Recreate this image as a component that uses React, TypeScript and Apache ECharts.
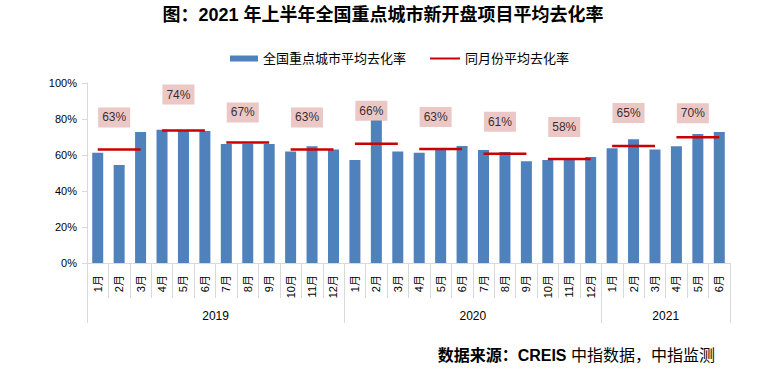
import React, { useEffect, useRef } from "react";
import * as echarts from "echarts";

const months: string[] = [
  "1月", "2月", "3月", "4月", "5月", "6月", "7月", "8月", "9月", "10月", "11月", "12月",
  "1月", "2月", "3月", "4月", "5月", "6月", "7月", "8月", "9月", "10月", "11月", "12月",
  "1月", "2月", "3月", "4月", "5月", "6月",
];
const years: string[] = ["2019", "2020", "2021"];
const yearMonthCounts: number[] = [12, 12, 6];

const rate2019: number[] = [61.3, 54.4, 72.8, 74.0, 73.7, 73.3, 66.1, 66.3, 66.1, 61.9, 64.8, 63.1];
const rate2020: number[] = [57.2, 79.4, 62.0, 61.3, 63.9, 65.0, 62.8, 61.7, 56.5, 57.2, 57.8, 58.9];
const rate2021: number[] = [63.7, 68.7, 63.1, 64.8, 71.7, 72.8];

const quarterAvg: number[] = [63.1, 73.6, 67.0, 63.1, 66.3, 63.3, 60.7, 57.8, 65.0, 69.8];

const barName = "全国重点城市平均去化率";
const lineName = "同月份平均去化率";
const titleText = "图：2021 年上半年全国重点城市新开盘项目平均去化率";

const FONT = "'Liberation Sans', 'Noto Sans CJK SC', sans-serif";

export default function App() {
  const ref = useRef<HTMLDivElement>(null);
  useEffect(() => {
    document.body.style.margin = "0";
    if (!ref.current) return;
    const chart = echarts.init(ref.current, undefined, { renderer: "svg" });

    const bars = [...rate2019, ...rate2020, ...rate2021];
    const n = bars.length;

    const lineA: (number | null)[] = new Array(n).fill(null);
    const lineB: (number | null)[] = new Array(n).fill(null);
    quarterAvg.forEach((v, q) => {
      const target = q % 2 === 0 ? lineA : lineB;
      for (let k = 0; k < 3; k++) target[q * 3 + k] = v;
    });

    const labelRaise = [22, 26, 20, 22, 23, 22, 22, 22, 23, 14];
    const labelPts = quarterAvg.map((v, q) => ({
      value: [q * 3 + 1, v],
      label: { distance: labelRaise[q] },
    }));

    // year axis: boundary points (n + 1 of them)
    const yearAxisData: string[] = new Array(n + 1).fill("");
    const yearTicks: number[] = [0];
    let acc = 0;
    yearMonthCounts.forEach((c, i) => {
      yearAxisData[Math.round(acc + c / 2)] = years[i];
      acc += c;
      yearTicks.push(acc);
    });

    const grey = "#d9d9d9";

    chart.setOption({
      animation: false,
      textStyle: { fontFamily: FONT },
      grid: { left: 87, right: 47, top: 83, bottom: 117 },
      legend: [
        {
          left: 225,
          top: 47,
          itemWidth: 28,
          itemHeight: 6,
          icon: "rect",
          data: [barName],
          textStyle: { fontSize: 13, color: "#000", fontFamily: FONT },
        },
        {
          left: 425,
          top: 47,
          itemWidth: 30,
          itemHeight: 2,
          icon: "rect",
          data: [lineName],
          textStyle: { fontSize: 13, color: "#000", fontFamily: FONT },
        },
      ],
      xAxis: [
        {
          type: "category",
          data: months,
          position: "bottom",
          axisLine: { show: true, lineStyle: { color: grey, width: 1 } },
          axisTick: { show: true, interval: 0, length: 35, lineStyle: { color: grey } },
          axisLabel: {
            interval: 0,
            rotate: 90,
            margin: 12,
            fontSize: 11,
            color: "#000",
            fontFamily: FONT,
          },
        },
        {
          type: "category",
          boundaryGap: false,
          data: yearAxisData,
          position: "bottom",
          offset: 0,
          axisLine: { show: false },
          axisTick: {
            show: true,
            length: 60,
            interval: (i: number) => yearTicks.includes(i),
            lineStyle: { color: grey },
          },
          axisLabel: {
            interval: 0,
            margin: 47,
            fontSize: 12,
            color: "#000",
            fontFamily: FONT,
          },
        },
      ],
      yAxis: {
        type: "value",
        min: 0,
        max: 100,
        interval: 20,
        axisLine: { show: true, lineStyle: { color: grey } },
        axisTick: { show: true, length: 5, lineStyle: { color: grey } },
        splitLine: { show: false },
        axisLabel: {
          formatter: "{value}%",
          fontSize: 11,
          color: "#000",
          margin: 10,
          fontFamily: FONT,
        },
      },
      series: [
        {
          name: barName,
          type: "bar",
          data: bars,
          barWidth: 11,
          itemStyle: { color: "#4F81BD" },
          z: 2,
        },
        {
          name: lineName,
          type: "line",
          data: lineA,
          symbol: "none",
          connectNulls: false,
          itemStyle: { color: "#CC0000" },
          lineStyle: { color: "#CC0000", width: 2.5 },
          z: 3,
        },
        {
          name: lineName,
          type: "line",
          data: lineB,
          symbol: "none",
          connectNulls: false,
          itemStyle: { color: "#CC0000" },
          lineStyle: { color: "#CC0000", width: 2.5 },
          z: 3,
        },
        {
          name: "labels",
          type: "scatter",
          data: labelPts,
          symbolSize: 0,
          z: 5,
          label: {
            show: true,
            position: "top",
            offset: [-5, 0],
            formatter: (p: any) => Math.round(p.value[1]) + "%",
            backgroundColor: "#E6B9B8",
            padding: [4, 4],
            fontSize: 12,
            lineHeight: 12,
            color: "#000",
            fontFamily: FONT,
          },
        },
      ],
      graphic: [
        {
          type: "text",
          x: 383,
          y: 15,
          style: {
            text: titleText,
            textAlign: "center",
            textVerticalAlign: "middle",
            font: "bold 18px 'Liberation Sans', 'Noto Sans CJK SC', sans-serif",
            fill: "#000",
          },
        },
        {
          type: "text",
          x: 715,
          y: 355,
          style: {
            text: "{a|数据来源：CREIS }{b|中指数据，中指监测}",
            textAlign: "right",
            textVerticalAlign: "middle",
            rich: {
              a: { fontFamily: FONT, fontWeight: "bold", fontSize: 16, fill: "#000" },
              b: { fontFamily: FONT, fontWeight: "normal", fontSize: 16, fill: "#000" },
            },
          },
        },
      ],
    });
    return () => chart.dispose();
  }, []);
  return <div ref={ref} style={{ width: 777, height: 380 }} />;
}
